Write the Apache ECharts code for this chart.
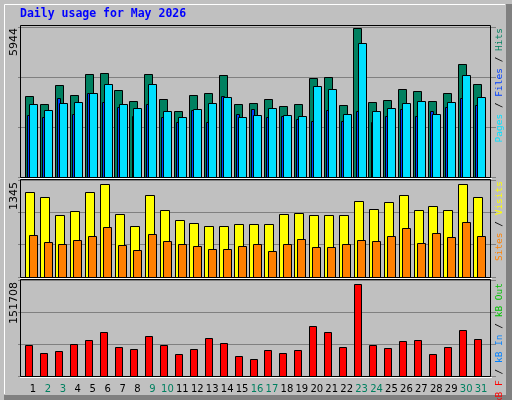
<!DOCTYPE html>
<html><head><meta charset="utf-8">
<script src="https://cdn.jsdelivr.net/npm/echarts@6/dist/echarts.min.js"></script>
<style>html,body{margin:0;padding:0;background:#c0c0c0}#c{width:512px;height:400px}</style>
</head><body><div id="c"></div>
<script>
const days = Array.from({length:31},(_,i)=>i+1);
const weekend = [2,3,9,10,16,17,23,24,30,31];
const hits  = [3240,2920,3693,3280,4133,4173,3493,3053,4133,3133,2653,3293,3373,4093,2933,2973,3133,2853,2933,3973,4013,2893,5944,3013,3093,3533,3453,3053,3373,4533,3733];
const files = [2493,2413,3173,2533,3373,3013,2813,2453,2933,2413,2213,2693,2213,3253,2533,2733,2413,2453,2333,2253,2693,2253,2653,2213,2453,2733,2453,2653,2813,3173,2893];
const pages = [2920,2693,2973,3013,3373,3733,2933,2773,3733,2653,2413,2733,2973,3213,2413,2493,2773,2493,2453,3653,3533,2533,5373,2653,2773,2973,3053,2533,3013,4093,3213];
const visits= [1229,1156,894,966,1229,1345,923,748,1199,981,835,792,748,748,777,777,777,923,937,894,894,908,1112,995,1097,1185,981,1025,981,1345,1170];
const sites = [617,515,486,544,602,733,471,398,631,529,486,456,413,413,456,486,384,486,558,442,442,486,544,529,602,719,500,646,588,806,602];
const kbF   = [50940,38760,42080,53710,60350,73640,48730,45400,67000,50940,37100,45400,63680,55370,33780,28790,43740,38760,43740,83610,73640,48730,151708,52050,47060,58690,60350,37100,48730,76960,62010];
const maxLabels = ['5944','1345','151708'];

function barSeries(name, data, gi, x0, x1, color){
  return {type:'custom', name, xAxisIndex:gi, yAxisIndex:gi,
    data: data.map((v,i)=>[days[i],v]),
    renderItem:(p,api)=>{
      const d=api.value(0), v=api.value(1);
      const a=api.coord([d+x0,v]), b=api.coord([d+x1,0]);
      return {type:'rect', shape:{x:Math.round(a[0])+0.5,y:Math.round(a[1])+0.5,width:Math.round(b[0]-a[0]),height:Math.round(b[1]-a[1])},
        style:{fill:color,stroke:'#000',lineWidth:1}};
    }};
}
const grids=[{top:27,height:150},{top:180,height:97},{top:280,height:96}];
const ymax=[6000,1410,159000], yint=[2000,470,53000];
const mono='DejaVu Sans Mono';
const option={
  animation:false,
  grid:grids.map(g=>({left:18,right:16,top:g.top,height:g.height})),
  xAxis:grids.map((g,i)=>({type:'value',gridIndex:i,min:0,max:32,interval:1,
    axisLine:{show:false},axisTick:{show:false},splitLine:{show:false},
    axisLabel:{show:i===2,margin:8,fontFamily:'DejaVu Sans',fontSize:10,
      formatter:v=>(v>=1&&v<=31)?'{'+(weekend.includes(v)?'w':'n')+'|'+v+'}':'',
      rich:{w:{color:'#008060',fontSize:10,fontFamily:'DejaVu Sans'},n:{color:'#000',fontSize:10,fontFamily:'DejaVu Sans'}}}})),
  yAxis:grids.map((g,i)=>({type:'value',gridIndex:i,min:0,max:ymax[i],interval:yint[i],
    axisLine:{show:false},axisTick:{show:false},axisLabel:{show:false},
    splitLine:{show:true,lineStyle:{color:'#808080',width:1}}})),
  series:[
    barSeries('Hits',hits,0,-0.54,0,'#008060'),
    barSeries('Files',files,0,-0.4,-0.2,'#0040ff'),
    barSeries('Pages',pages,0,-0.27,0.27,'#00e0ff'),
    barSeries('Visits',visits,1,-0.52,0.05,'#ffff00'),
    barSeries('Sites',sites,1,-0.29,0.25,'#ff8000'),
    barSeries('KB F',kbF,2,-0.5,-0.02,'#ff0000')
  ],
  graphic:[
    {type:'rect',shape:{x:506,y:4,width:6,height:396},style:{fill:'#808080'},z:-1},
    {type:'rect',shape:{x:4,y:395,width:508,height:5},style:{fill:'#808080'},z:-1},
    {type:'line',shape:{x1:4.5,y1:4.5,x2:505,y2:4.5},style:{stroke:'#fff',lineWidth:1}},
    {type:'line',shape:{x1:4.5,y1:4.5,x2:4.5,y2:394},style:{stroke:'#fff',lineWidth:1}},
    ...[[25,177],[179,277],[279,376]].map(r=>({type:'rect',shape:{x:20.5,y:r[0]+0.5,width:470,height:r[1]-r[0]},style:{fill:'none',stroke:'#000',lineWidth:1},z:10})),
    ...[[177],[277],[376]].map(r=>({type:'line',shape:{x1:20,y1:r[0]+1.5,x2:492,y2:r[0]+1.5},style:{stroke:'#fff',lineWidth:1},z:10})),
    {type:'text',left:20,top:8,style:{text:'Daily usage for May 2026',fill:'#0000ff',font:'bold 11.5px '+mono}},
    ...[[28,0],[182,1],[282,2]].map(r=>({type:'text',x:9,y:r[0],rotation:Math.PI/2,style:{text:maxLabels[r[1]],fill:'#000',font:'11px DejaVu Sans',align:'right',verticalAlign:'top'}})),
    {type:'text',x:500,y:28,rotation:Math.PI/2,style:{text:'{a|Pages} {s|/} {b|Files} {s|/} {c|Hits}',align:'right',verticalAlign:'middle',font:'9.5px '+mono,
      rich:{a:{fill:'#00e0ff',font:'9.5px '+mono},b:{fill:'#0040ff',font:'9.5px '+mono},c:{fill:'#008060',font:'9.5px '+mono},s:{fill:'#000',font:'9.5px '+mono}}}},
    {type:'text',x:500,y:181,rotation:Math.PI/2,style:{text:'{a|Sites} {s|/} {b|Visits}',align:'right',verticalAlign:'middle',font:'9.5px '+mono,
      rich:{a:{fill:'#ff8000',font:'9.5px '+mono},b:{fill:'#ffff00',font:'9.5px '+mono},s:{fill:'#000',font:'9.5px '+mono}}}},
    {type:'text',x:500,y:283,rotation:Math.PI/2,style:{text:'{c|kB F} {s|/} {b|kB In} {s|/} {a|kB Out}',align:'right',verticalAlign:'middle',font:'9.5px '+mono,
      rich:{a:{fill:'#00c000',font:'9.5px '+mono},b:{fill:'#0080ff',font:'9.5px '+mono},c:{fill:'#ff0000',font:'9.5px '+mono},s:{fill:'#000',font:'9.5px '+mono}}}}
  ]
};
echarts.init(document.getElementById('c')).setOption(option);
</script></body></html>
